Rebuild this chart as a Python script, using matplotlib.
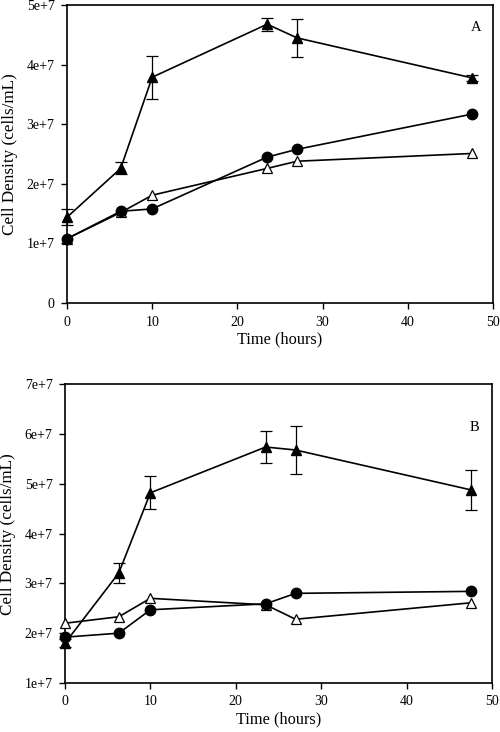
import matplotlib
matplotlib.use("Agg")
import matplotlib.pyplot as plt
import numpy as np

plt.rcParams['font.family'] = ['Liberation Serif', 'DejaVu Serif']

time = [0, 6.3, 10, 23.5, 27, 47.5]

# Panel A
a_filled_tri = [1.44e7, 2.26e7, 3.79e7, 4.68e7, 4.45e7, 3.78e7]
a_filled_tri_err = [0.13e7, 0.10e7, 0.36e7, 0.11e7, 0.32e7, 0.05e7]
a_circle = [1.08e7, 1.54e7, 1.58e7, 2.45e7, 2.58e7, 3.17e7]
a_open_tri = [1.08e7, 1.52e7, 1.81e7, 2.26e7, 2.38e7, 2.51e7]

# Panel B
b_filled_tri = [1.80e7, 3.21e7, 4.82e7, 5.74e7, 5.68e7, 4.88e7]
b_filled_tri_err = [0.08e7, 0.20e7, 0.33e7, 0.33e7, 0.48e7, 0.40e7]
b_circle = [1.92e7, 2.00e7, 2.47e7, 2.59e7, 2.80e7, 2.84e7]
b_open_tri = [2.20e7, 2.33e7, 2.70e7, 2.57e7, 2.28e7, 2.61e7]

a_yticks = [0, 1e7, 2e7, 3e7, 4e7, 5e7]
a_ylabels = ['0', '1e+7', '2e+7', '3e+7', '4e+7', '5e+7']
b_yticks = [1e7, 2e7, 3e7, 4e7, 5e7, 6e7, 7e7]
b_ylabels = ['1e+7', '2e+7', '3e+7', '4e+7', '5e+7', '6e+7', '7e+7']
xticks = [0, 10, 20, 30, 40, 50]

fig = plt.figure(figsize=(5.0, 7.32), dpi=100)
axA = fig.add_axes([0.134, 0.586, 0.852, 0.407])
axB = fig.add_axes([0.130, 0.067, 0.854, 0.408])


def draw(ax, ftri, ferr, circ, otri, yticks, ylabels, ylim, letter, letter_y):
    ax.plot(time, otri, '-', color='black', lw=1.2, marker='^', ms=7.5,
            mfc='white', mec='black', mew=0.9, zorder=3)
    ax.plot(time, circ, '-', color='black', lw=1.2, marker='o', ms=7.5,
            mfc='black', mec='black', zorder=4)
    ax.errorbar(time, ftri, yerr=ferr, fmt='-', color='black', lw=1.2,
                marker='^', ms=7.5, mfc='black', mec='black',
                ecolor='black', elinewidth=0.9, capsize=4, capthick=0.9,
                zorder=5)
    ax.set_xlim(0, 50)
    ax.set_ylim(*ylim)
    ax.set_xticks(xticks)
    ax.set_xticklabels([str(t) for t in xticks])
    ax.set_yticks(yticks)
    ax.set_yticklabels(ylabels)
    ax.tick_params(direction='out', length=4, width=1, labelsize=10,
                   top=False, right=False, pad=5)
    for s in ax.spines.values():
        s.set_linewidth(1.2)
    ax.set_xlabel('Time (hours)', fontsize=11.8, labelpad=2)
    ax.set_ylabel('Cell Density (cells/mL)', fontsize=12.3, labelpad=6)
    ax.text(48, letter_y, letter, fontsize=10.5, ha='center', va='center')
    for c in ax.get_children():
        try:
            c.set_clip_on(False)
        except Exception:
            pass


draw(axA, a_filled_tri, a_filled_tri_err, a_circle, a_open_tri,
     a_yticks, a_ylabels, (0, 5e7), 'A', 4.63e7)
draw(axB, b_filled_tri, b_filled_tri_err, b_circle, b_open_tri,
     b_yticks, b_ylabels, (1e7, 7e7), 'B', 6.14e7)

fig.savefig('out.png', dpi=100)
